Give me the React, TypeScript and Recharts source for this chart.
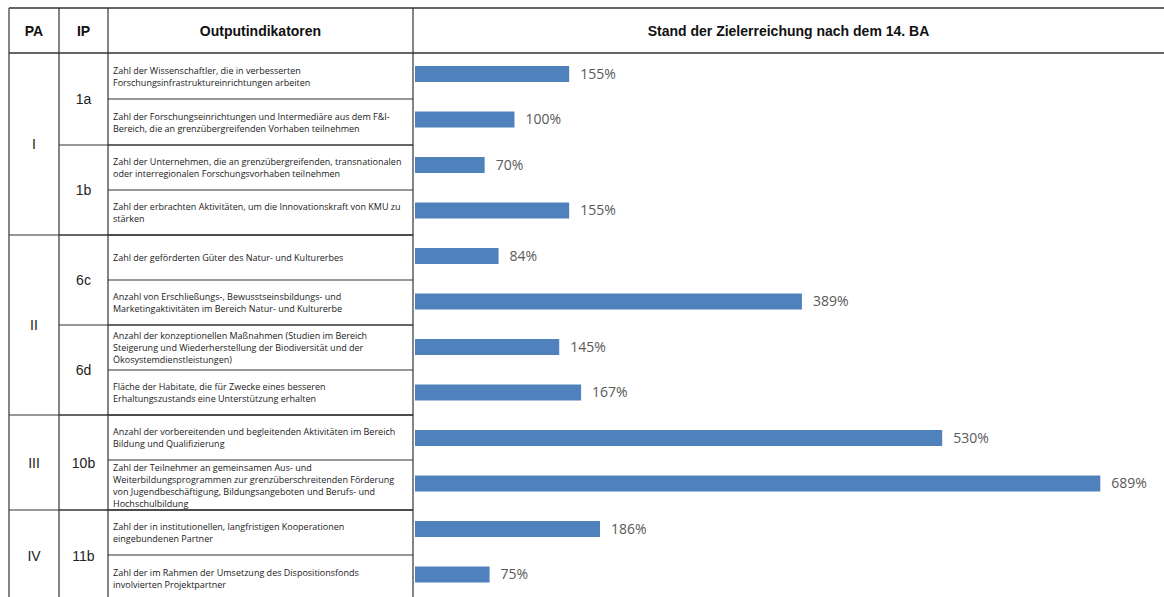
import { BarChart, Bar, XAxis, YAxis, LabelList } from 'recharts';

const indicators = [
  'Zahl der Wissenschaftler, die in verbesserten\nForschungsinfrastruktureinrichtungen arbeiten',
  'Zahl der Forschungseinrichtungen und Intermediäre aus dem F&I-\nBereich, die an grenzübergreifenden Vorhaben teilnehmen',
  'Zahl der Unternehmen, die an grenzübergreifenden, transnationalen\noder interregionalen Forschungsvorhaben teilnehmen',
  'Zahl der erbrachten Aktivitäten, um die Innovationskraft von KMU zu\nstärken',
  'Zahl der geförderten Güter des Natur- und Kulturerbes',
  'Anzahl von Erschließungs-, Bewusstseinsbildungs- und\nMarketingaktivitäten im Bereich Natur- und Kulturerbe',
  'Anzahl der konzeptionellen Maßnahmen (Studien im Bereich\nSteigerung und Wiederherstellung der Biodiversität und der\nÖkosystemdienstleistungen)',
  'Fläche der Habitate, die für Zwecke eines besseren\nErhaltungszustands eine Unterstützung erhalten',
  'Anzahl der vorbereitenden und begleitenden Aktivitäten im Bereich\nBildung und Qualifizierung',
  'Zahl der Teilnehmer an gemeinsamen Aus- und\nWeiterbildungsprogrammen zur grenzüberschreitenden Förderung\nvon Jugendbeschäftigung, Bildungsangeboten und Berufs- und\nHochschulbildung',
  'Zahl der in institutionellen, langfristigen Kooperationen\neingebundenen Partner',
  'Zahl der im Rahmen der Umsetzung des Dispositionsfonds\ninvolvierten Projektpartner',
];

// Stand der Zielerreichung in %
const values = [155, 100, 70, 155, 84, 389, 145, 167, 530, 689, 186, 75];

const priorityAxes = ['I', 'II', 'III', 'IV'];
const axisRowCounts = [4, 4, 2, 2];
const investmentPriorities = ['1a', '1b', '6c', '6d', '10b', '11b'];
const ipRowCounts = [2, 2, 2, 2, 2, 2];

const data = indicators.map((name, i) => ({ name, value: values[i] }));

// table layout
const W = 1164;
const H = 597;
const COLS = [9, 59, 108, 413];
const TOP = 8;
const HEAD = 53;
const ROW_EDGES = [53, 99, 145, 190, 235, 280, 325, 370, 415, 460, 510, 555, 601];
const LINE = '#333';
const headFont = '"Liberation Sans", Arial, sans-serif';
const textFont = '"Open Sans", sans-serif';

const groupEdges = (counts: number[]) => {
  const out = [0];
  counts.forEach((c) => out.push(out[out.length - 1] + c));
  return out;
};

const Table = () => {
  const paEdges = groupEdges(axisRowCounts);
  const ipEdges = groupEdges(ipRowCounts);
  const mid = (a: number, b: number) => (ROW_EDGES[a] + ROW_EDGES[b]) / 2;
  return (
    <svg width={W} height={H} style={{ position: 'absolute', left: 0, top: 0 }}>
      <line x1={COLS[0]} x2={W} y1={TOP} y2={TOP} stroke={LINE} strokeWidth={1.3} />
      <line x1={COLS[0]} x2={W} y1={HEAD} y2={HEAD} stroke={LINE} strokeWidth={1.3} />
      {COLS.map((x) => (
        <line key={x} x1={x} x2={x} y1={TOP} y2={H} stroke={LINE} strokeWidth={1.2} />
      ))}
      {ROW_EDGES.slice(1, -1).map((y) => (
        <line key={y} x1={COLS[2]} x2={COLS[3]} y1={y} y2={y} stroke={LINE} strokeWidth={1} />
      ))}
      {ipEdges.slice(1, -1).map((r) => (
        <line key={r} x1={COLS[1]} x2={COLS[3]} y1={ROW_EDGES[r]} y2={ROW_EDGES[r]} stroke={LINE} strokeWidth={1} />
      ))}
      {paEdges.slice(1, -1).map((r) => (
        <line key={r} x1={COLS[0]} x2={COLS[3]} y1={ROW_EDGES[r]} y2={ROW_EDGES[r]} stroke={LINE} strokeWidth={1} />
      ))}

      <g fontFamily={headFont} fontWeight="bold" fontSize={14} fill="#111" textAnchor="middle">
        <text x={(COLS[0] + COLS[1]) / 2} y={31} dominantBaseline="central">PA</text>
        <text x={(COLS[1] + COLS[2]) / 2} y={31} dominantBaseline="central">IP</text>
        <text x={(COLS[2] + COLS[3]) / 2} y={31} dominantBaseline="central">Outputindikatoren</text>
        <text x={(COLS[3] + W) / 2} y={31} dominantBaseline="central">Stand der Zielerreichung nach dem 14. BA</text>
      </g>

      <g fontFamily={headFont} fontSize={14} fill="#222" textAnchor="middle">
        {priorityAxes.map((pa, i) => (
          <text key={pa} x={(COLS[0] + COLS[1]) / 2} y={mid(paEdges[i], paEdges[i + 1])} dominantBaseline="central">
            {pa}
          </text>
        ))}
        {investmentPriorities.map((ip, i) => (
          <text key={ip} x={(COLS[1] + COLS[2]) / 2} y={mid(ipEdges[i], ipEdges[i + 1])} dominantBaseline="central">
            {ip}
          </text>
        ))}
      </g>

      <g fontFamily={textFont} fontSize={9} fill="#1a1a1a">
        {indicators.map((txt, i) => {
          const lines = txt.split('\n');
          const c = mid(i, i + 1);
          const start = c - ((lines.length - 1) * 12) / 2;
          return (
            <text key={i} x={COLS[2] + 5}>
              {lines.map((l, k) => (
                <tspan key={k} x={COLS[2] + 5} y={start + k * 12} dominantBaseline="central">
                  {l}
                </tspan>
              ))}
            </text>
          );
        })}
      </g>
    </svg>
  );
};

export default function App() {
  return (
    <div style={{ position: 'absolute', left: 0, top: 0, width: W, height: H, background: '#fff' }}>
      <Table />
      <div style={{ position: 'absolute', left: 0, top: 0 }}>
        <BarChart
          width={W}
          height={H}
          data={data}
          layout="vertical"
          margin={{ top: 51, right: 3, bottom: 0, left: 415 }}
        >
          <XAxis type="number" domain={[0, 750]} hide />
          <YAxis type="category" dataKey="name" hide />
          <Bar dataKey="value" fill="#4F81BD" barSize={16} isAnimationActive={false}>
            <LabelList
              dataKey="value"
              position="right"
              offset={11}
              formatter={(v: number) => `${v}%`}
              fill="#595959"
              fontSize={14}
              fontFamily={textFont}
            />
          </Bar>
        </BarChart>
      </div>
    </div>
  );
}
